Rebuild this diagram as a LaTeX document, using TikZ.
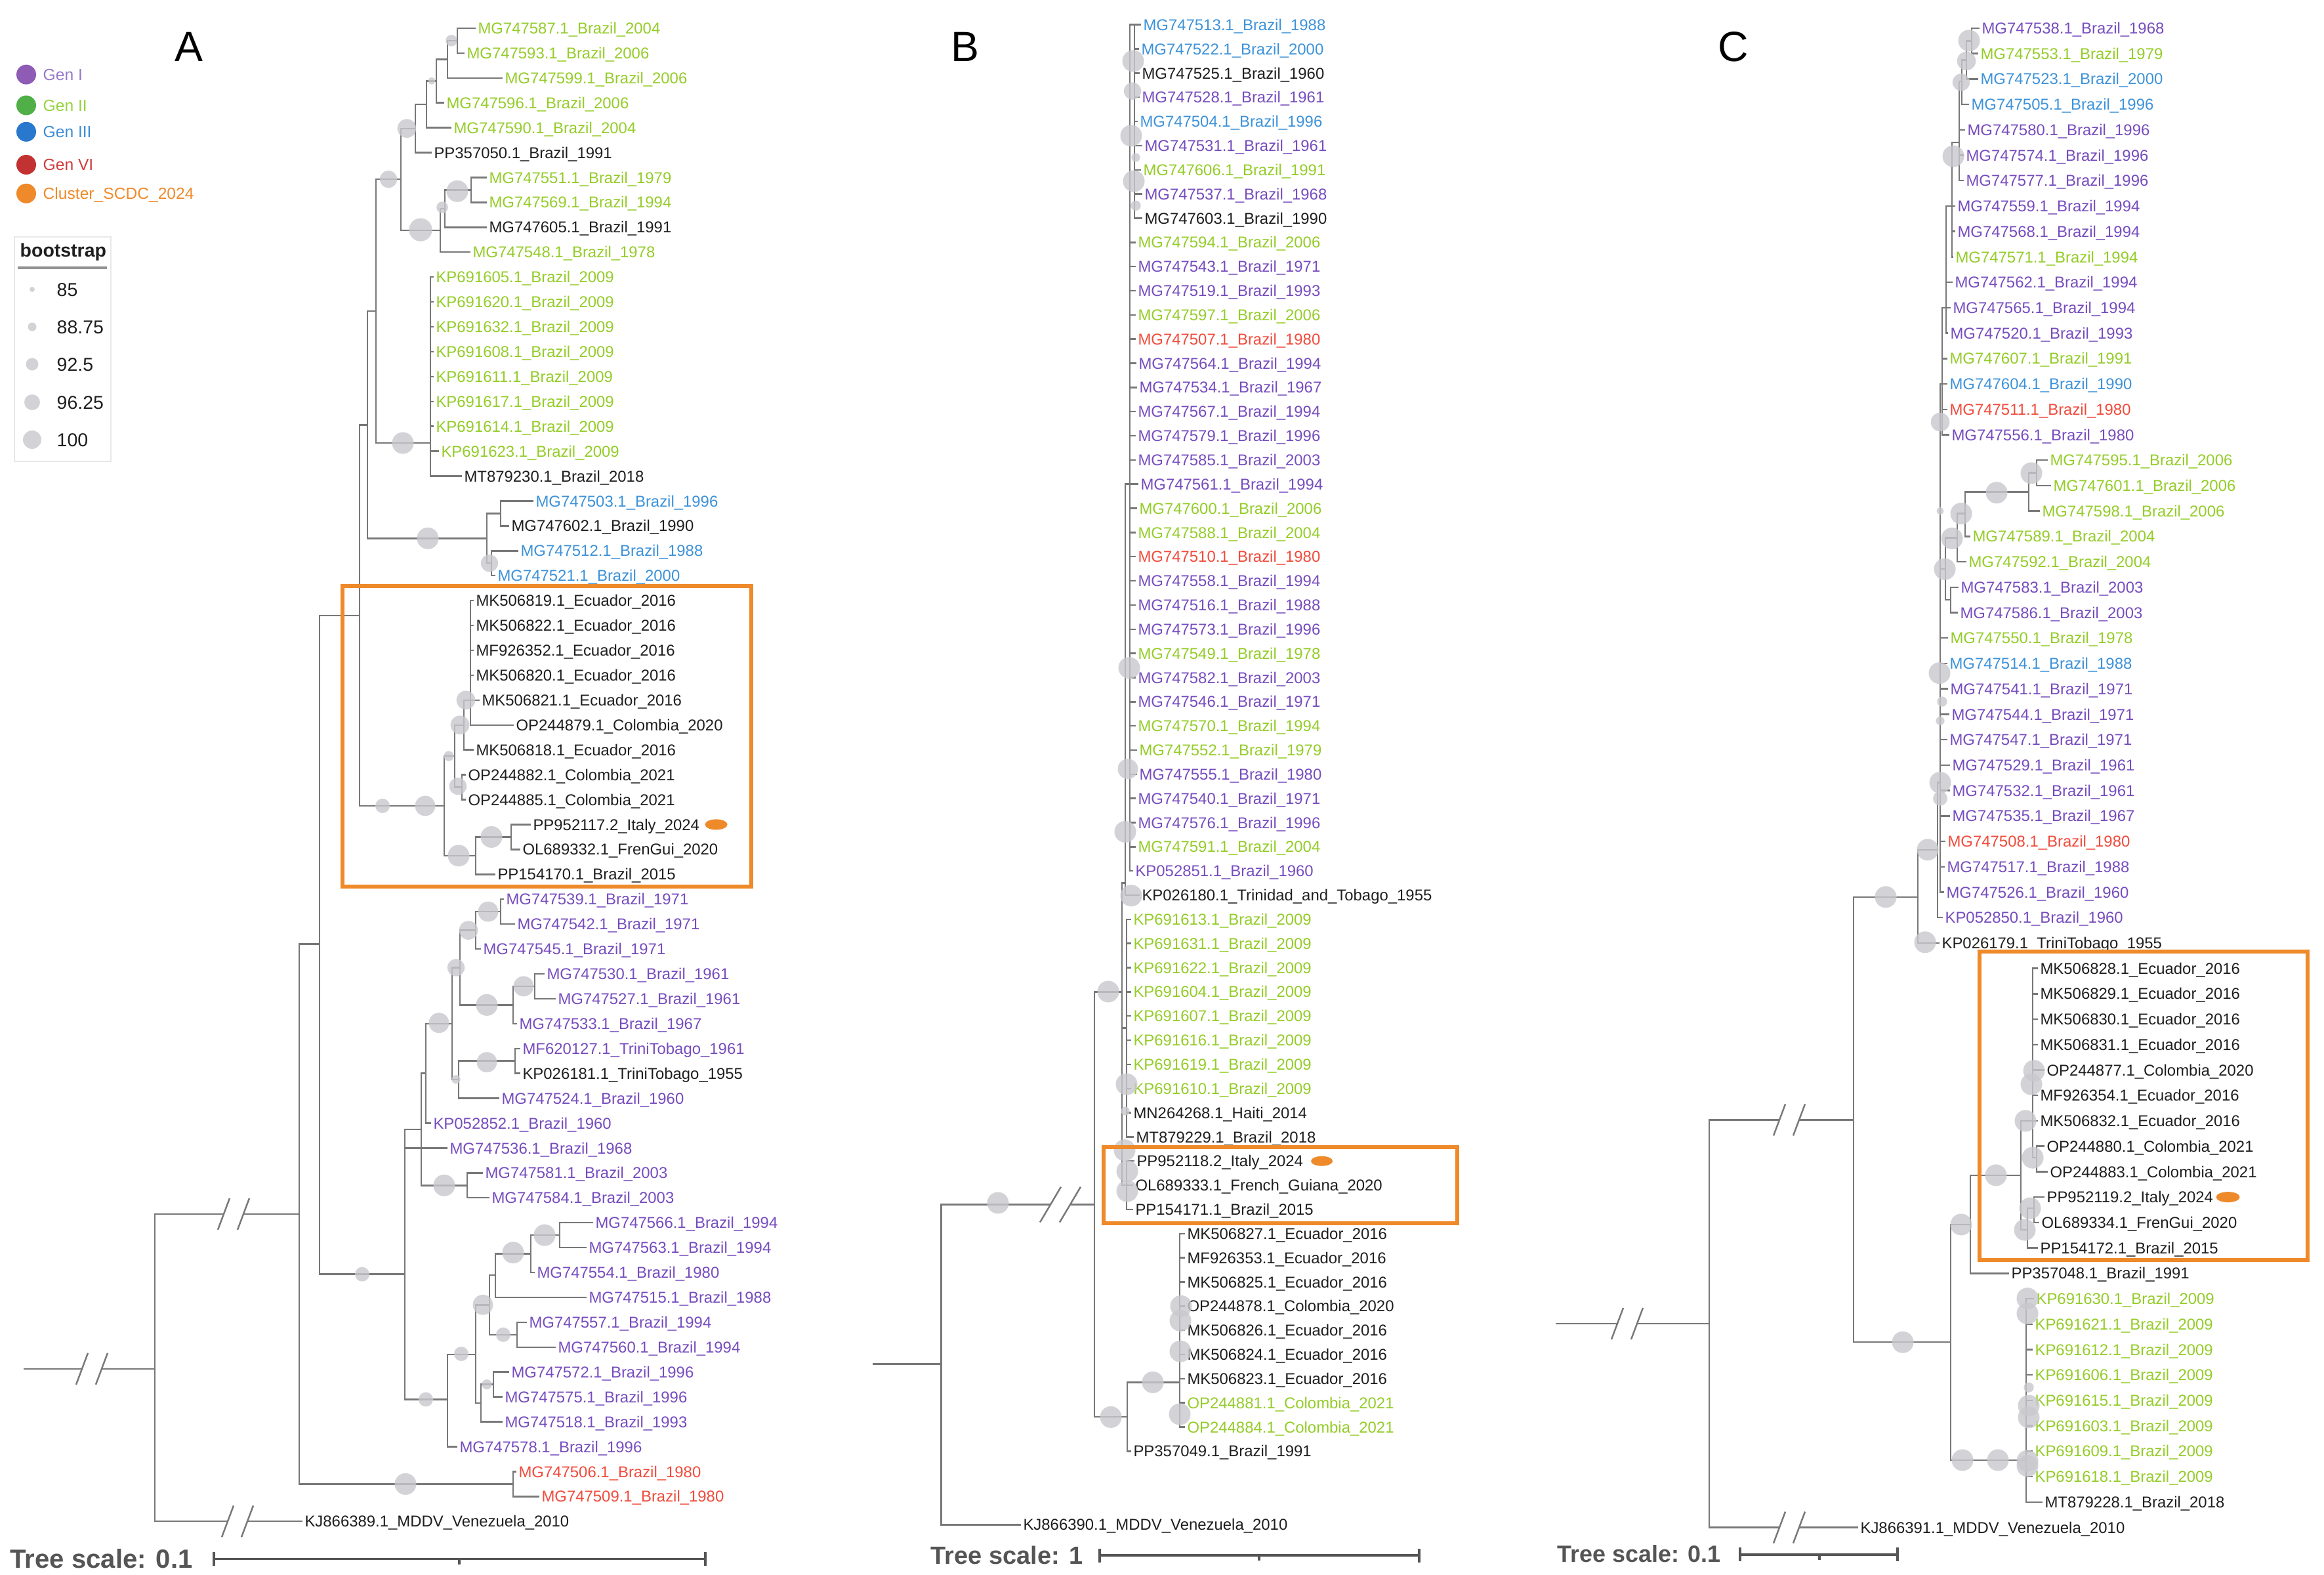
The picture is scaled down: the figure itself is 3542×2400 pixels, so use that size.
\documentclass[tikz,border=0pt]{standalone}
\usepackage{fontspec}
\setmainfont{Liberation Sans}
\definecolor{gen_one}		{RGB}{118,76,190}
\definecolor{gen_two}		{RGB}{148,204,40}
\definecolor{gen_three}		{RGB}{61,146,217}
\definecolor{gen_six}		{RGB}{240,75,60}
\definecolor{tip_black}		{RGB}{30,30,30}
\definecolor{dot_one}		{RGB}{142,91,181}
\definecolor{dot_two}		{RGB}{80,175,70}
\definecolor{dot_three}		{RGB}{40,120,205}
\definecolor{dot_six}		{RGB}{195,50,50}
\definecolor{key_one}		{RGB}{150,120,200}
\definecolor{key_two}		{RGB}{150,210,60}
\definecolor{key_three}		{RGB}{60,140,215}
\definecolor{key_six}		{RGB}{205,60,60}
\definecolor{sdc_orange}	{RGB}{238,138,42}
\definecolor{boot_gray}		{RGB}{200,200,205}
\definecolor{branch_gray}	{RGB}{120,120,120}
\definecolor{scale_gray}	{RGB}{85,85,85}
\definecolor{frame_gray}	{RGB}{232,232,232}
\begin{document}
\begin{tikzpicture}[
		x               = 0.01cm,
		y               = -0.01cm,
		leafL/.style    = {anchor = west,
			inner xsep     = 0.8pt,
			inner ysep     = 0pt,
			text height    = 4.9pt,
			text depth     = 0pt,
			font = \fontsize{6.8pt}{7pt}\selectfont},
		keyL/.style     = {anchor = west,
			inner sep      = 0pt,
			text height    = 5pt,
			text depth     = 0pt,
			font = \fontsize{7pt}{8pt}\selectfont},
		bootL/.style    = {anchor = west,
			inner sep      = 0pt,
			text = tip_black,
			text height    = 5.8pt,
			text depth     = 0pt,
			font = \fontsize{8.1pt}{9pt}\selectfont},
		panelL/.style   = {font = \fontsize{18.3pt}{20pt}\selectfont},
		scaleL/.style   = {anchor = west,
			inner sep      = 0pt,
			text = scale_gray,
			text height    = 0.716*#1,
			text depth     = 0pt,
			font = \fontsize{#1}{12pt}\selectfont\bfseries},
		branchG/.style  = {draw = branch_gray, line width = 0.7pt},
		bootS/.style    = {fill = boot_gray, fill opacity = 0.8},
		scaleB/.style   = {draw = scale_gray, line width = 1.1pt},
		boxO/.style     = {draw = sdc_orange, line width = 1.7pt},
		brkA/.pic       = {
			\fill[white] (-15,-6) rectangle (15,6);
			\draw[branchG] (-24,24) -- (-6,-24) (6,24) -- (24,-24);},
		brkB/.pic       = {
			\fill[white] (-15,-6) rectangle (15,6);
			\draw[branchG] (-31,27) -- (1,-27) (-1,27) -- (31,-27);}]
	
	\useasboundingbox (0,0) rectangle (3542,2400);
	
	% panel A
	\begin{scope}[y = -0.379cm, yshift = -0.05cm]
		\foreach \n/\x/\y in {nA1/697/1.5, nA2/682/2.25, nA3/665/3.12, nA4/650/4.06, nA5/633/5.03,
			nA6/718/7.5, nA7/678/8.25, nA8/671/9.12, nA9/611/7.07, nA10/656/17.67, nA11/573/12.37,
			nA12/763/20.5, nA13/749/22.5, nA14/742/21.5, nA15/560/16.94,
			eA1/717/28, eA2/707/29, eA3/693/30.25, eA4/704/31.5, eA5/779/33.5, eA6/725/34.25,
			eA7/677/32.25, nA16/548/24.6,
			pA1/763/36.5, pA2/725/37.25, pA3/815/39.5, pA4/782/40.25, pA5/701/38.75, pA6/785/42.5,
			pA7/699/43.25, pA8/689/41, pA9/649/43, pA10/712/47.5, pA11/642/45.25,
			qA1/853/49.5, qA2/809/50.25, qA3/755/51.1, qA4/788/53.5, qA5/746/52.3, qA6/752/55.5,
			qA7/733/56.25, qA8/725/54.3, qA9/682/56.1, pA12/617/51.07,
			nA17/487/37.8, rA1/782/59.5, nA18/456/48.65, rootA/236/54.87, stemA/36/54.87}
		\coordinate (\n) at (\x,\y);
		
		\foreach \n/\x/\y/\col/\p/\lab in {
			a1/725/1/gen_two/nA1/MG747587.1\_Brazil\_2004, a2/708/2/gen_two/nA1/MG747593.1\_Brazil\_2006,
			a3/766/3/gen_two/nA2/MG747599.1\_Brazil\_2006, a4/677/4/gen_two/nA3/MG747596.1\_Brazil\_2006,
			a5/688/5/gen_two/nA4/MG747590.1\_Brazil\_2004, a6/658/6/tip_black/nA5/PP357050.1\_Brazil\_1991,
			a7/742/7/gen_two/nA6/MG747551.1\_Brazil\_1979, a8/742/8/gen_two/nA6/MG747569.1\_Brazil\_1994,
			a9/742/9/tip_black/nA7/MG747605.1\_Brazil\_1991, a10/717/10/gen_two/nA8/MG747548.1\_Brazil\_1978,
			a11/661/11/gen_two/nA10/KP691605.1\_Brazil\_2009, a12/661/12/gen_two/nA10/KP691620.1\_Brazil\_2009,
			a13/661/13/gen_two/nA10/KP691632.1\_Brazil\_2009, a14/661/14/gen_two/nA10/KP691608.1\_Brazil\_2009,
			a15/661/15/gen_two/nA10/KP691611.1\_Brazil\_2009, a16/661/16/gen_two/nA10/KP691617.1\_Brazil\_2009,
			a17/661/17/gen_two/nA10/KP691614.1\_Brazil\_2009, a18/669/18/gen_two/nA10/KP691623.1\_Brazil\_2009,
			a19/704/19/tip_black/nA10/MT879230.1\_Brazil\_2018, a20/813/20/gen_three/nA12/MG747503.1\_Brazil\_1996,
			a21/776/21/tip_black/nA12/MG747602.1\_Brazil\_1990, a22/790/22/gen_three/nA13/MG747512.1\_Brazil\_1988,
			a23/755/23/gen_three/nA13/MG747521.1\_Brazil\_2000, a24/722/24/tip_black/eA1/MK506819.1\_Ecuador\_2016,
			a25/722/25/tip_black/eA1/MK506822.1\_Ecuador\_2016, a26/722/26/tip_black/eA1/MF926352.1\_Ecuador\_2016,
			a27/722/27/tip_black/eA1/MK506820.1\_Ecuador\_2016, a28/731/28/tip_black/eA1/MK506821.1\_Ecuador\_2016,
			a29/783/29/tip_black/eA1/OP244879.1\_Colombia\_2020, a30/722/30/tip_black/eA2/MK506818.1\_Ecuador\_2016,
			a31/710/31/tip_black/eA4/OP244882.1\_Colombia\_2021, a32/710/32/tip_black/eA4/OP244885.1\_Colombia\_2021,
			a33/809/33/tip_black/eA5/PP952117.2\_Italy\_2024, a34/793/34/tip_black/eA5/OL689332.1\_FrenGui\_2020,
			a35/755/35/tip_black/eA6/PP154170.1\_Brazil\_2015, a36/768/36/gen_one/pA1/MG747539.1\_Brazil\_1971,
			a37/785/37/gen_one/pA1/MG747542.1\_Brazil\_1971, a38/733/38/gen_one/pA2/MG747545.1\_Brazil\_1971,
			a39/830/39/gen_one/pA3/MG747530.1\_Brazil\_1961, a40/847/40/gen_one/pA3/MG747527.1\_Brazil\_1961,
			a41/788/41/gen_one/pA4/MG747533.1\_Brazil\_1967, a42/793/42/gen_one/pA6/MF620127.1\_TriniTobago\_1961,
			a43/793/43/tip_black/pA6/KP026181.1\_TriniTobago\_1955, a44/761/44/gen_one/pA7/MG747524.1\_Brazil\_1960,
			a45/657/45/gen_one/pA9/KP052852.1\_Brazil\_1960, a46/682/46/gen_one/pA12/MG747536.1\_Brazil\_1968,
			a47/736/47/gen_one/pA10/MG747581.1\_Brazil\_2003, a48/746/48/gen_one/pA10/MG747584.1\_Brazil\_2003,
			a49/904/49/gen_one/qA1/MG747566.1\_Brazil\_1994, a50/894/50/gen_one/qA1/MG747563.1\_Brazil\_1994,
			a51/815/51/gen_one/qA2/MG747554.1\_Brazil\_1980, a52/894/52/gen_one/qA3/MG747515.1\_Brazil\_1988,
			a53/803/53/gen_one/qA4/MG747557.1\_Brazil\_1994, a54/847/54/gen_one/qA4/MG747560.1\_Brazil\_1994,
			a55/776/55/gen_one/qA6/MG747572.1\_Brazil\_1996, a56/766/56/gen_one/qA6/MG747575.1\_Brazil\_1996,
			a57/766/57/gen_one/qA7/MG747518.1\_Brazil\_1993, a58/697/58/gen_one/qA9/MG747578.1\_Brazil\_1996,
			a59/787/59/gen_six/rA1/MG747506.1\_Brazil\_1980, a60/822/60/gen_six/rA1/MG747509.1\_Brazil\_1980,
			a61/461/61/tip_black/rootA/KJ866389.1\_MDDV\_Venezuela\_2010}
		{
			\node[leafL, text = \col] (\n) at (\x,\y) {\lab};
			\draw[branchG] (\p) |- (\n.west);
		}
		
		\foreach \p/\q in {nA2/nA1, nA3/nA2, nA4/nA3, nA5/nA4, nA7/nA6, nA8/nA7, nA9/nA5, nA9/nA8,
			nA11/nA9, nA11/nA10, nA14/nA12, nA14/nA13, nA15/nA11, nA15/nA14, eA2/eA1, eA3/eA2, eA3/eA4,
			eA6/eA5, eA7/eA3, eA7/eA6, nA16/nA15, nA16/eA7, pA2/pA1, pA4/pA3, pA5/pA2, pA5/pA4, pA7/pA6,
			pA8/pA5, pA8/pA7, pA9/pA8, pA11/pA9, pA11/pA10, qA2/qA1, qA3/qA2, qA5/qA3, qA5/qA4, qA7/qA6,
			qA8/qA5, qA8/qA7, qA9/qA8, pA12/pA11, pA12/qA9, nA17/nA16, nA17/pA12, nA18/nA17, nA18/rA1,
			rootA/nA18, stemA/rootA}
		\draw[branchG] (\p) |- (\q);
		
		\foreach \x/\y/\rad in {688/1.5/8, 658/3.12/5, 620/5.03/13, 697/7.55/15, 674/8.2/8, 641/9.1/16,
			592/7.07/12, 614/17.67/15, 652/21.5/15, 746/22.5/12, 710/28/13, 701/29/13, 684/30.25/7,
			698/31.46/12, 749/33.5/15, 699/34.25/15, 583/32.25/10, 648/32.25/14, 744/36.5/14, 714/37.25/13,
			798/39.5/14, 742/40.25/15, 695/38.75/12, 742/42.55/14, 695/43.24/6, 669/40.97/14, 677/47.5/15,
			830/49.5/15, 782/50.2/15, 767/53.5/10, 736/52.3/14, 742/55.5/7, 703/54.27/10, 649/56.1/10,
			552/51.07/10, 618/59.5/15}
		\fill[bootS] (\x,\y) circle[radius = \rad*0.011cm];
	\end{scope}
	
	% panel B
	\begin{scope}[y = -0.3682cm, yshift = -0.0088cm]
		\foreach \n/\x/\y in {tB1/1729/1, tB2/1722/20, tB3/1715/36.5, tB4/1717/42.5, tB5/1717/49,
			tB6/1710/41, tB7/1798/57.16, tB8/1718/58.58, tB9/1668/49.8, rootB/1434.5/56.4, stemB/1330/56.4}
		\coordinate (\n) at (\x,\y);
		
		\foreach \n/\x/\y/\col/\p/\lab in {
			b1/1739/1/gen_three/tB1/MG747513.1\_Brazil\_1988, b2/1736/2/gen_three/tB1/MG747522.1\_Brazil\_2000,
			b3/1737/3/tip_black/tB1/MG747525.1\_Brazil\_1960, b4/1737/4/gen_one/tB1/MG747528.1\_Brazil\_1961,
			b5/1734/5/gen_three/tB1/MG747504.1\_Brazil\_1996, b6/1741/6/gen_one/tB1/MG747531.1\_Brazil\_1961,
			b7/1739/7/gen_two/tB1/MG747606.1\_Brazil\_1991, b8/1741/8/gen_one/tB1/MG747537.1\_Brazil\_1968,
			b9/1741/9/tip_black/tB1/MG747603.1\_Brazil\_1990, b10/1731/10/gen_two/tB2/MG747594.1\_Brazil\_2006,
			b11/1731/11/gen_one/tB2/MG747543.1\_Brazil\_1971, b12/1731/12/gen_one/tB2/MG747519.1\_Brazil\_1993,
			b13/1731/13/gen_two/tB2/MG747597.1\_Brazil\_2006, b14/1731/14/gen_six/tB2/MG747507.1\_Brazil\_1980,
			b15/1732/15/gen_one/tB2/MG747564.1\_Brazil\_1994, b16/1733/16/gen_one/tB2/MG747534.1\_Brazil\_1967,
			b17/1731/17/gen_one/tB2/MG747567.1\_Brazil\_1994, b18/1731/18/gen_one/tB2/MG747579.1\_Brazil\_1996,
			b19/1731/19/gen_one/tB2/MG747585.1\_Brazil\_2003, b20/1735/20/gen_one/tB2/MG747561.1\_Brazil\_1994,
			b21/1733/21/gen_two/tB2/MG747600.1\_Brazil\_2006, b22/1731/22/gen_two/tB2/MG747588.1\_Brazil\_2004,
			b23/1731/23/gen_six/tB2/MG747510.1\_Brazil\_1980, b24/1731/24/gen_one/tB2/MG747558.1\_Brazil\_1994,
			b25/1731/25/gen_one/tB2/MG747516.1\_Brazil\_1988, b26/1731/26/gen_one/tB2/MG747573.1\_Brazil\_1996,
			b27/1731/27/gen_two/tB2/MG747549.1\_Brazil\_1978, b28/1731/28/gen_one/tB2/MG747582.1\_Brazil\_2003,
			b29/1731/29/gen_one/tB2/MG747546.1\_Brazil\_1971, b30/1731/30/gen_two/tB2/MG747570.1\_Brazil\_1994,
			b31/1733/31/gen_two/tB2/MG747552.1\_Brazil\_1979, b32/1733/32/gen_one/tB2/MG747555.1\_Brazil\_1980,
			b33/1731/33/gen_one/tB2/MG747540.1\_Brazil\_1971, b34/1731/34/gen_one/tB2/MG747576.1\_Brazil\_1996,
			b35/1731/35/gen_two/tB2/MG747591.1\_Brazil\_2004, b36/1727/36/gen_one/tB2/KP052851.1\_Brazil\_1960,
			b37/1737/37/tip_black/tB3/KP026180.1\_Trinidad\_and\_Tobago\_1955,
			b38/1724/38/gen_two/tB4/KP691613.1\_Brazil\_2009, b39/1724/39/gen_two/tB4/KP691631.1\_Brazil\_2009,
			b40/1724/40/gen_two/tB4/KP691622.1\_Brazil\_2009, b41/1724/41/gen_two/tB4/KP691604.1\_Brazil\_2009,
			b42/1724/42/gen_two/tB4/KP691607.1\_Brazil\_2009, b43/1724/43/gen_two/tB4/KP691616.1\_Brazil\_2009,
			b44/1724/44/gen_two/tB4/KP691619.1\_Brazil\_2009, b45/1724/45/gen_two/tB4/KP691610.1\_Brazil\_2009,
			b46/1724/46/tip_black/tB4/MN264268.1\_Haiti\_2014, b47/1728/47/tip_black/tB4/MT879229.1\_Brazil\_2018,
			b48/1729/48/tip_black/tB5/PP952118.2\_Italy\_2024, b49/1727/49/tip_black/tB5/OL689333.1\_French\_Guiana\_2020,
			b50/1727/50/tip_black/tB5/PP154171.1\_Brazil\_2015, b51/1806/51/tip_black/tB7/MK506827.1\_Ecuador\_2016,
			b52/1806/52/tip_black/tB7/MF926353.1\_Ecuador\_2016, b53/1806/53/tip_black/tB7/MK506825.1\_Ecuador\_2016,
			b54/1806/54/tip_black/tB7/OP244878.1\_Colombia\_2020, b55/1806/55/tip_black/tB7/MK506826.1\_Ecuador\_2016,
			b56/1806/56/tip_black/tB7/MK506824.1\_Ecuador\_2016, b57/1806/57/tip_black/tB7/MK506823.1\_Ecuador\_2016,
			b58/1806/58/gen_two/tB7/OP244881.1\_Colombia\_2021, b59/1806/59/gen_two/tB7/OP244884.1\_Colombia\_2021,
			b60/1724/60/tip_black/tB8/PP357049.1\_Brazil\_1991,
			b61/1556/63.04/tip_black/rootB/KJ866390.1\_MDDV\_Venezuela\_2010}
		{
			\node[leafL, text = \col] (\n) at (\x,\y) {\lab};
			\draw[branchG] (\p) |- (\n.west);
		}
		
		\foreach \p/\q in {tB2/tB1, tB3/tB2, tB6/tB3, tB6/tB4, tB6/tB5, tB8/tB7, tB9/tB6, tB9/tB8,
			rootB/tB9, stemB/rootB}
		\draw[branchG] (\p) |- (\q);
		
		\foreach \x/\y/\rad in {1727/2.5/15, 1726/3.74/12, 1724/5.59/15, 1731/6.49/6, 1728/7.47/15,
			1731/8.48/7, 1721/27.6/15, 1719/31.78/14, 1715/34.38/15, 1724/37.02/15, 1689/40.99/15,
			1717/44.82/15, 1715/45.93/6, 1714/47.55/15, 1718/48.42/15, 1718/49.24/15, 1521/49.73/15,
			1693/58.59/15, 1757/57.15/15, 1800/54/15, 1799/54.6/15, 1799/55.87/15, 1798/58.47/15}
		\fill[bootS] (\x,\y) circle[radius = \rad*0.011cm];
	\end{scope}
	
	% panel C
	\begin{scope}[y = -0.387cm, yshift = -0.042cm]
		\foreach \n/\x/\y in {nC1/3005/1.5, nC2/2997/2.25, nC3/2990/3.1, nC4/2986/5.5, nC5/2975/8,
			nC6/2966/12, nC7/2960/15, nC8/3104/18.5, nC9/3092/19.25, nC10/2995/20.1, nC11/2983/21.05,
			nC12/2973/23.5, nC13/2965/22.28, lC1/2957/30.69, lC2/2953/33.33, tC1/2923/35.19,
			eC2/3104/45.45, eC1/3098/44, eC3/3100/47.44, eC4/3090/48.29, eC5/3080/46.14, pC1/3003/48.08,
			kC1/3088/57.35, nC14/2973/52.71, nC15/2825/43.96, rootC/2605/51.98, stemC/2371/51.98}
		\coordinate (\n) at (\x,\y);
		
		\foreach \n/\x/\y/\col/\p/\lab in {
			c1/3017/1/gen_one/nC1/MG747538.1\_Brazil\_1968, c2/3015/2/gen_two/nC1/MG747553.1\_Brazil\_1979,
			c3/3015/3/gen_three/nC2/MG747523.1\_Brazil\_2000, c4/3001/4/gen_three/nC3/MG747505.1\_Brazil\_1996,
			c5/2995/5/gen_one/nC4/MG747580.1\_Brazil\_1996, c6/2993/6/gen_one/nC4/MG747574.1\_Brazil\_1996,
			c7/2993/7/gen_one/nC4/MG747577.1\_Brazil\_1996, c8/2980/8/gen_one/nC5/MG747559.1\_Brazil\_1994,
			c9/2980/9/gen_one/nC5/MG747568.1\_Brazil\_1994, c10/2977/10/gen_two/nC5/MG747571.1\_Brazil\_1994,
			c11/2976/11/gen_one/nC6/MG747562.1\_Brazil\_1994, c12/2973/12/gen_one/nC6/MG747565.1\_Brazil\_1994,
			c13/2969/13/gen_one/nC6/MG747520.1\_Brazil\_1993, c14/2968/14/gen_two/nC7/MG747607.1\_Brazil\_1991,
			c15/2968/15/gen_three/nC7/MG747604.1\_Brazil\_1990, c16/2968/16/gen_six/nC7/MG747511.1\_Brazil\_1980,
			c17/2971/17/gen_one/nC7/MG747556.1\_Brazil\_1980, c18/3121/18/gen_two/nC8/MG747595.1\_Brazil\_2006,
			c19/3126/19/gen_two/nC8/MG747601.1\_Brazil\_2006, c20/3109/20/gen_two/nC9/MG747598.1\_Brazil\_2006,
			c21/3003/21/gen_two/nC10/MG747589.1\_Brazil\_2004, c22/2997/22/gen_two/nC11/MG747592.1\_Brazil\_2004,
			c23/2985/23/gen_one/nC12/MG747583.1\_Brazil\_2003, c24/2984/24/gen_one/nC12/MG747586.1\_Brazil\_2003,
			c25/2969/25/gen_two/lC1/MG747550.1\_Brazil\_1978, c26/2968/26/gen_three/lC1/MG747514.1\_Brazil\_1988,
			c27/2969/27/gen_one/lC1/MG747541.1\_Brazil\_1971, c28/2971/28/gen_one/lC1/MG747544.1\_Brazil\_1971,
			c29/2968/29/gen_one/lC1/MG747547.1\_Brazil\_1971, c30/2972/30/gen_one/lC1/MG747529.1\_Brazil\_1961,
			c31/2972/31/gen_one/lC1/MG747532.1\_Brazil\_1961, c32/2972/32/gen_one/lC1/MG747535.1\_Brazil\_1967,
			c33/2965/33/gen_six/lC1/MG747508.1\_Brazil\_1980, c34/2964/34/gen_one/lC1/MG747517.1\_Brazil\_1988,
			c35/2963/35/gen_one/lC1/MG747526.1\_Brazil\_1960, c36/2961/36/gen_one/lC2/KP052850.1\_Brazil\_1960,
			c37/2956/37/tip_black/tC1/KP026179.1\_TriniTobago\_1955,
			c38/3106/38/tip_black/eC1/MK506828.1\_Ecuador\_2016, c39/3106/39/tip_black/eC1/MK506829.1\_Ecuador\_2016,
			c40/3106/40/tip_black/eC1/MK506830.1\_Ecuador\_2016, c41/3106/41/tip_black/eC1/MK506831.1\_Ecuador\_2016,
			c42/3116/42/tip_black/eC1/OP244877.1\_Colombia\_2020, c43/3106/43/tip_black/eC1/MF926354.1\_Ecuador\_2016,
			c44/3106/44/tip_black/eC1/MK506832.1\_Ecuador\_2016, c45/3116/45/tip_black/eC2/OP244880.1\_Colombia\_2021,
			c46/3121/46/tip_black/eC2/OP244883.1\_Colombia\_2021, c47/3116/47/tip_black/eC3/PP952119.2\_Italy\_2024,
			c48/3108/48/tip_black/eC3/OL689334.1\_FrenGui\_2020, c49/3106/49/tip_black/eC4/PP154172.1\_Brazil\_2015,
			c50/3062/50/tip_black/pC1/PP357048.1\_Brazil\_1991, c51/3100/51/gen_two/kC1/KP691630.1\_Brazil\_2009,
			c52/3098/52/gen_two/kC1/KP691621.1\_Brazil\_2009, c53/3098/53/gen_two/kC1/KP691612.1\_Brazil\_2009,
			c54/3098/54/gen_two/kC1/KP691606.1\_Brazil\_2009, c55/3098/55/gen_two/kC1/KP691615.1\_Brazil\_2009,
			c56/3098/56/gen_two/kC1/KP691603.1\_Brazil\_2009, c57/3098/57/gen_two/kC1/KP691609.1\_Brazil\_2009,
			c58/3098/58/gen_two/kC1/KP691618.1\_Brazil\_2009, c59/3113/59/tip_black/kC1/MT879228.1\_Brazil\_2018,
			c60/2832/60/tip_black/rootC/KJ866391.1\_MDDV\_Venezuela\_2010}
		{
			\node[leafL, text = \col] (\n) at (\x,\y) {\lab};
			\draw[branchG] (\p) |- (\n.west);
		}
		
		\foreach \p/\q in {nC2/nC1, nC3/nC2, nC4/nC3, nC5/nC4, nC6/nC5, nC7/nC6, nC9/nC8, nC10/nC9,
			nC11/nC10, nC13/nC11, nC13/nC12, lC1/nC7, lC1/nC13, lC2/lC1, tC1/lC2, eC1/eC2, eC4/eC3,
			eC5/eC1, eC5/eC4, pC1/eC5, nC14/pC1, nC14/kC1, nC15/tC1, nC15/nC14, rootC/nC15, stemC/rootC}
		\draw[branchG] (\p) |- (\q);
		
		\foreach \x/\y/\rad in {3001/1.49/15, 2997/2.29/13, 2989/3.13/12, 2977/6.04/15, 2957/16.5/13,
			2957/20/5, 2989/20.1/15, 3043/19.28/15, 3096/18.51/15, 2975/21.08/15, 2964/22.29/15,
			2956/26.38/15, 2960/27.5/7, 2957/28.26/6, 2957/30.69/15, 2957/31.31/10, 2938/33.33/15,
			2874/35.19/15, 2934/36.97/15, 3100/42.03/15, 3096/42.56/15, 3087/44/15, 3098/45.45/15,
			3094/47.44/15, 3086/48.29/15, 3042/46.14/15, 2989/48.08/15, 3090/50.99/15, 3090/51.58/15,
			3092/54.49/7, 3092/55.21/15, 3092/55.67/15, 3090/57.38/15, 3090/57.58/15, 2991/57.35/15,
			3045/57.35/15, 2900/52.71/15}
		\fill[bootS] (\x,\y) circle[radius = \rad*0.011cm];
	\end{scope}
	
	% broken branches
	\pic at (356,0 |- nA18) {brkA};
	\pic at (362,0 |- a61.west) {brkA};
	\pic at (140,0 |- rootA) {brkA};
	\pic at (1616,0 |- tB9) {brkB};
	\pic at (2727,0 |- nC15) {brkA};
	\pic at (2727,0 |- c60.west) {brkA};
	\pic at (2480,0 |- rootC) {brkA};
	
	% new cluster frames
	\draw[boxO] (522,893) rectangle (1145,1351);
	\draw[boxO] (1682,1748) rectangle (2221,1864);
	\draw[boxO] (3017,1450) rectangle (3517,1920);
	\fill[sdc_orange] ([xshift = 0.22cm]a33.east) ellipse[x radius = 0.17cm, y radius = 0.08cm];
	\fill[sdc_orange] ([xshift = 0.25cm]b48.east) ellipse[x radius = 0.165cm, y radius = 0.075cm];
	\fill[sdc_orange] ([xshift = 0.19cm]c47.east) ellipse[x radius = 0.18cm, y radius = 0.08cm];
	
	% panel letters
	\node[panelL] (labA) at (288,71) {A};
	\node[panelL] (labB) at (1471,71) {B};
	\node[panelL] (labC) at (2642,71) {C};
	
	% genotype legend
	\foreach \y/\dc/\kc/\lab [count = \i] in {113.6/dot_one/key_one/Gen I, 160.5/dot_two/key_two/Gen II,
		200.8/dot_three/key_three/Gen III, 251/dot_six/key_six/Gen VI,
		294.8/sdc_orange/sdc_orange/Cluster\_SCDC\_2024}
	{
		\fill[\dc] (40,\y) circle[radius = 0.15cm];
		\node[keyL, text = \kc] (key\i) at (65,\y) {\lab};
	}
	
	% bootstrap legend
	\draw[draw = frame_gray, line width = 0.6pt] (22,361) rectangle (169,703);
	\node[bootL, font = \fontsize{8.1pt}{9pt}\selectfont\bfseries] (bsHead) at (30,381) {bootstrap};
	\draw[draw = branch_gray!80, line width = 0.9pt] (27,408) -- (163,408);
	\foreach \y/\rad/\lab [count = \i] in {441/4/85, 498/6.5/88.75, 555/9.5/92.5, 613/12/96.25, 670/14/100}
	{
		\fill[bootS] (49,\y) circle[radius = \rad*0.01cm];
		\node[bootL] (bs\i) at (86,\y) {\lab};
	}
	
	% tree scales
	\node[scaleL = 11.4pt] (tsA) at (15,2375) {Tree scale: 0.1};
	\draw[scaleB] (326,2365) -- (326,2386) (326,2375.5) -- (1075,2375.5) (1075,2365) -- (1075,2386)
	(700,2375.5) -- (700,2384);
	\node[scaleL = 10.8pt] (tsB) at (1418,2370) {Tree scale: 1};
	\draw[scaleB] (1676,2360) -- (1676,2381) (1676,2370) -- (2163,2370) (2163,2360) -- (2163,2381)
	(1919,2370) -- (1919,2378);
	\node[scaleL = 10.2pt] (tsC) at (2373,2368) {Tree scale: 0.1};
	\draw[scaleB] (2652,2358) -- (2652,2379) (2652,2369) -- (2892,2369) (2892,2358) -- (2892,2379)
	(2773,2369) -- (2773,2377);
	
\end{tikzpicture}
\end{document}
